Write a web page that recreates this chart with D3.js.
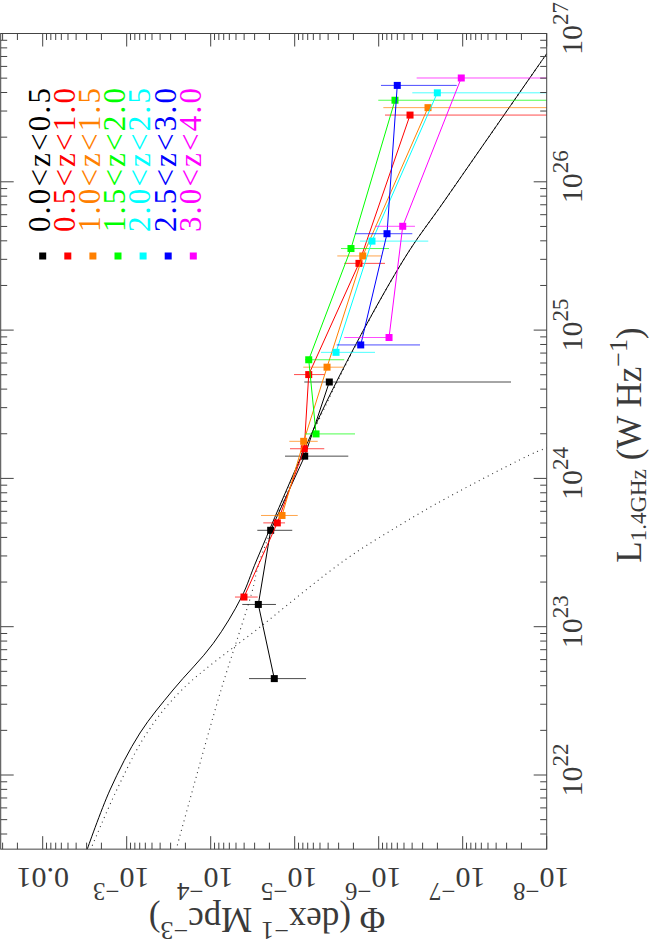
<!DOCTYPE html>
<html lang="en">
<head>
<meta charset="UTF-8">
<title>1.4 GHz luminosity function</title>
<script src="https://d3js.org/d3.v7.min.js"></script>
<style>
  html, body { margin: 0; padding: 0; background: #fff; }
  svg { display: block; }
  text { font-family: "Liberation Serif", "DejaVu Serif", serif; fill: #3a3a3a; }
</style>
</head>
<body>
<svg id="svg" width="653" height="945"></svg>
<script>
// redshift bins and their colours
var bins = ["0.0<z<0.5", "0.5<z<1.0", "1.0<z<1.5", "1.5<z<2.0", "2.0<z<2.5", "2.5<z<3.0", "3.0<z<4.0"];
var colors = ["#000000", "#ff0000", "#ff8000", "#00ff00", "#00ffff", "#0000ff", "#ff00ff"];

// log10 L_1.4GHz (W/Hz) of every point, per bin
var logL = [
  [22.65, 23.15, 23.65, 24.15, 24.65],
  [23.20, 23.70, 24.20, 24.70, 25.45, 26.45],
  [23.75, 24.25, 24.75, 25.50, 26.50],
  [24.30, 24.80, 25.55, 26.55],
  [24.85, 25.60, 26.60],
  [24.90, 25.65, 26.65],
  [24.95, 25.70, 26.70]
];
// log10 Phi (dex^-1 Mpc^-3)
var logPhi = [
  [-4.757, -4.567, -4.714, -5.119, -5.412],
  [-4.396, -4.793, -5.114, -5.167, -5.765, -6.373],
  [-4.849, -5.107, -5.385, -5.810, -6.587],
  [-5.254, -5.167, -5.670, -6.194],
  [-5.492, -5.920, -6.698],
  [-5.786, -6.099, -6.221],
  [-6.123, -6.286, -6.983]
];
// error bar ends (upper / lower Phi)
var logPhiHi = [
  [-4.456, -4.376, -4.555, -4.885, -5.114],
  [-4.289, -4.626, -4.944, -4.992, -5.590, -6.075],
  [-4.599, -4.936, -5.102, -5.507, -6.055],
  [-5.123, -5.123, -5.551, -5.995],
  [-5.313, -5.777, -6.400],
  [-5.500, -5.718, -6.027],
  [-5.590, -5.956, -6.452]
];
var logPhiLo = [
  [-5.135, -4.777, -4.971, -5.638, -7.575],
  [-4.560, -4.885, -5.352, -5.361, -6.075, -8.5],
  [-5.036, -5.274, -5.579, -6.036, -8.5],
  [-5.718, -5.590, -6.123, -8.5],
  [-5.956, -6.590, -8.5],
  [-6.492, -6.400, -6.929],
  [-6.123, -6.432, -8.5]
];

// model curves: total (solid), two components (dotted)
var modelL   = [21.494, 21.899, 22.283, 22.573, 22.888, 23.202, 23.450, 24.529, 25.473, 25.877, 26.799, 26.866];
var modelPhi = [-2.527, -2.801, -3.158, -3.551, -4.031, -4.369, -4.548, -5.390, -6.295, -6.789, -7.920, -8.003];
var sfL   = [21.494, 21.899, 22.281, 22.573, 23.011, 23.450, 23.686, 23.868, 24.180, 24.205];
var sfPhi = [-2.568, -2.881, -3.238, -3.655, -4.617, -5.599, -6.254, -6.810, -7.881, -8.004];
var agnL   = [21.494, 21.831, 22.551, 23.227, 23.450, 24.529, 25.473, 25.877, 26.799, 26.866];
var agnPhi = [-3.587, -3.751, -4.111, -4.488, -4.587, -5.400, -6.295, -6.789, -7.920, -8.003];

var xTicks = [22, 23, 24, 25, 26, 27];
var yTicks = [-2, -3, -4, -5, -6, -7, -8];

var svg = d3.select("svg"),
  W = 945; // the plot is drawn landscape, then turned onto its side
var g = svg.append("g").attr("transform", "translate(0," + W + ") rotate(-90)");

var x = d3.scaleLog().domain([Math.pow(10, 21.5), 1e27]).range([95.85, 911.5]);
var y = d3.scaleLog().domain([Math.pow(10, -1.5), 1e-8]).range([0.7, 546.7]);
var x0 = x.range()[0], x1 = x.range()[1], y0 = y.range()[0], y1 = y.range()[1];
var p10 = function (v) { return Math.pow(10, v); };

g.append("clipPath").attr("id", "clip")
  .append("rect").attr("x", x0).attr("y", y0).attr("width", x1 - x0).attr("height", y1 - y0);

var plot = g.append("g").attr("clip-path", "url(#clip)");

// model curves
function curve(ls, ps) {
  return d3.line().curve(d3.curveCatmullRom.alpha(0.5))
    .x(function (d) { return x(p10(d)); })
    .y(function (d, i) { return y(p10(ps[i])); })(ls);
}
plot.append("path").attr("d", curve(sfL, sfPhi))
  .attr("fill", "none").attr("stroke", "#333").attr("stroke-width", 1.1).attr("stroke-dasharray", "1,4");
plot.append("path").attr("d", curve(agnL, agnPhi))
  .attr("fill", "none").attr("stroke", "#333").attr("stroke-width", 1.1).attr("stroke-dasharray", "1,4");
plot.append("path").attr("d", curve(modelL, modelPhi))
  .attr("fill", "none").attr("stroke", "#000").attr("stroke-width", 1);

// data per bin
bins.forEach(function (b, k) {
  var pts = logL[k].map(function (l, i) {
    return { l: l, p: logPhi[k][i], hi: logPhiHi[k][i], lo: logPhiLo[k][i] };
  });
  var s = plot.append("g");
  s.selectAll("line").data(pts).enter().append("line")
    .attr("x1", function (d) { return x(p10(d.l)); })
    .attr("x2", function (d) { return x(p10(d.l)); })
    .attr("y1", function (d) { return y(p10(d.hi)); })
    .attr("y2", function (d) { return y(p10(d.lo)); })
    .attr("stroke", colors[k]).attr("stroke-opacity", 0.7).attr("stroke-width", 1);
  s.append("path")
    .attr("d", d3.line().x(function (d) { return x(p10(d.l)); }).y(function (d) { return y(p10(d.p)); })(pts))
    .attr("fill", "none").attr("stroke", colors[k]).attr("stroke-width", 1);
  s.selectAll("rect").data(pts).enter().append("rect")
    .attr("x", function (d) { return x(p10(d.l)) - 3.5; })
    .attr("y", function (d) { return y(p10(d.p)) - 3.5; })
    .attr("width", 7).attr("height", 7)
    .attr("fill", colors[k]);
});

// frame and log ticks on all four sides
g.append("rect").attr("x", x0).attr("y", y0).attr("width", x1 - x0).attr("height", y1 - y0)
  .attr("fill", "none").attr("stroke", "#444").attr("stroke-width", 1);

var tk = g.append("g").attr("stroke", "#444").attr("stroke-width", 1);
x.ticks().forEach(function (t) {
  var major = Math.abs(Math.log10(t) - Math.round(Math.log10(t))) < 1e-6;
  var len = major ? 13 : 6.5, xx = x(t);
  tk.append("line").attr("x1", xx).attr("x2", xx).attr("y1", y1).attr("y2", y1 - len);
  tk.append("line").attr("x1", xx).attr("x2", xx).attr("y1", y0).attr("y2", y0 + len);
});
y.ticks().forEach(function (t) {
  var major = Math.abs(Math.log10(t) - Math.round(Math.log10(t))) < 1e-6;
  var len = major ? 13 : 6.5, yy = y(t);
  tk.append("line").attr("y1", yy).attr("y2", yy).attr("x1", x0).attr("x2", x0 + len);
  tk.append("line").attr("y1", yy).attr("y2", yy).attr("x1", x1).attr("x2", x1 - len);
});

// luminosity tick labels
xTicks.forEach(function (n) {
  var t = g.append("text").attr("x", x(p10(n)) + 5).attr("y", 582)
    .attr("text-anchor", "middle").attr("font-size", 30);
  t.append("tspan").text("10");
  t.append("tspan").attr("dy", -14).attr("font-size", 23).text(n);
});

// Phi tick labels (vertical in the landscape frame)
yTicks.forEach(function (n) {
  var t = g.append("text")
    .attr("transform", "translate(77," + (y(p10(n)) - (n === -2 ? 0 : 5.5)) + ") rotate(-90)")
    .attr("text-anchor", "middle").attr("font-size", 30);
  if (n === -2) {
    t.text("0.01");
  } else {
    t.append("tspan").text("10");
    t.append("tspan").attr("dy", -15).attr("font-size", 25).text("\u2212" + (-n));
  }
});

// axis titles
var yt = g.append("text")
  .attr("transform", "translate(37,267) rotate(-90)")
  .attr("text-anchor", "middle").attr("font-size", 35);
yt.append("tspan").text("\u03a6 (dex");
yt.append("tspan").attr("dy", -14).attr("font-size", 26).text("\u22121");
yt.append("tspan").attr("dy", 14).text(" Mpc");
yt.append("tspan").attr("dy", -14).attr("font-size", 26).text("\u22123");
yt.append("tspan").attr("dy", 14).text(")");

var xt = g.append("text").attr("x", 500).attr("y", 641)
  .attr("text-anchor", "middle").attr("font-size", 35);
xt.append("tspan").text("L");
xt.append("tspan").attr("dy", 5).attr("font-size", 23).text("1.4GHz");
xt.append("tspan").attr("dy", -5).text(" (W Hz");
xt.append("tspan").attr("dy", -14).attr("font-size", 26).text("\u22121");
xt.append("tspan").attr("dy", 14).text(")");

// legend
var lg = g.append("g");
bins.forEach(function (b, k) {
  lg.append("rect").attr("x", 689 - 3.5).attr("y", 42.7 + 25.1 * k - 3.5)
    .attr("width", 7).attr("height", 7).attr("fill", colors[k]);
  lg.append("text").attr("x", 713).attr("y", 50 + 25.1 * k)
    .attr("font-size", 31).style("fill", colors[k])
    .attr("textLength", 144).attr("lengthAdjust", "spacing")
    .text(b);
});
</script>
</body>
</html>
